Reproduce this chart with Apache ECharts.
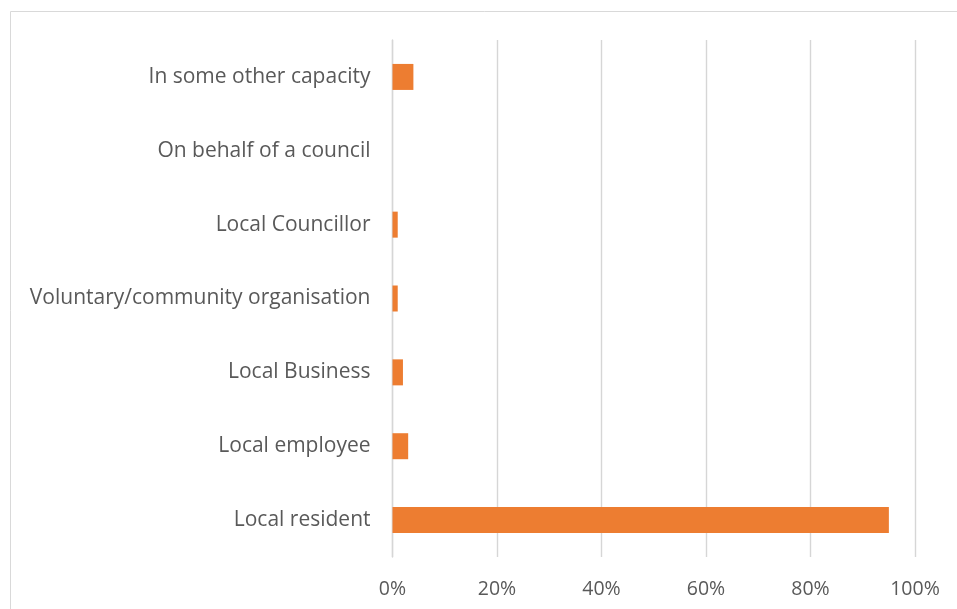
<!DOCTYPE html>
<html>
<head>
<meta charset="utf-8">
<script src="https://cdn.jsdelivr.net/npm/echarts@6/dist/echarts.min.js"></script>
<style>
  html, body { margin: 0; padding: 0; background: #fff; }
  #chart { width: 957px; height: 609px; }
</style>
</head>
<body>
<div id="chart"></div>
<script>
// Respondent capacity categories, bottom to top
const categories = [
  'Local resident',
  'Local employee',
  'Local Business',
  'Voluntary/community organisation',
  'Local Councillor',
  'On behalf of a council',
  'In some other capacity'
];
// Share of respondents (%)
const shares = [95, 3, 2, 1, 1, 0, 4];
const xTicks = [0, 20, 40, 60, 80, 100];

const chart = echarts.init(document.getElementById('chart'), null, { renderer: 'canvas' });
const FONT = 'Open Sans';

chart.setOption({
  animation: false,
  graphic: [{
    type: 'rect',
    shape: { x: 10.5, y: 11.5, width: 1200, height: 1200 },
    style: { fill: 'none', stroke: '#d9d9d9', lineWidth: 1 },
    silent: true
  }],
  grid: { left: 392.5, right: 42, top: 40, bottom: 52 },
  xAxis: {
    type: 'value',
    min: xTicks[0],
    max: xTicks[xTicks.length - 1],
    interval: 20,
    axisLine: { show: false },
    axisTick: { show: false },
    splitLine: { lineStyle: { color: '#d6d6d6', width: 1.4 } },
    axisLabel: {
      formatter: v => v + '%',
      color: '#595959',
      fontFamily: FONT,
      fontSize: 19.5,
      margin: 22
    }
  },
  yAxis: {
    type: 'category',
    data: categories,
    axisLine: { show: true, lineStyle: { color: '#d6d6d6', width: 1.4 } },
    axisTick: { show: false },
    splitLine: { show: false },
    axisLabel: {
      color: '#595959',
      fontFamily: FONT,
      fontSize: 21,
      margin: 22,
      padding: [3, 0, 0, 0]
    }
  },
  series: [{
    type: 'bar',
    data: shares,
    barWidth: 26,
    itemStyle: { color: '#ed7d31' }
  }]
});
</script>
</body>
</html>
